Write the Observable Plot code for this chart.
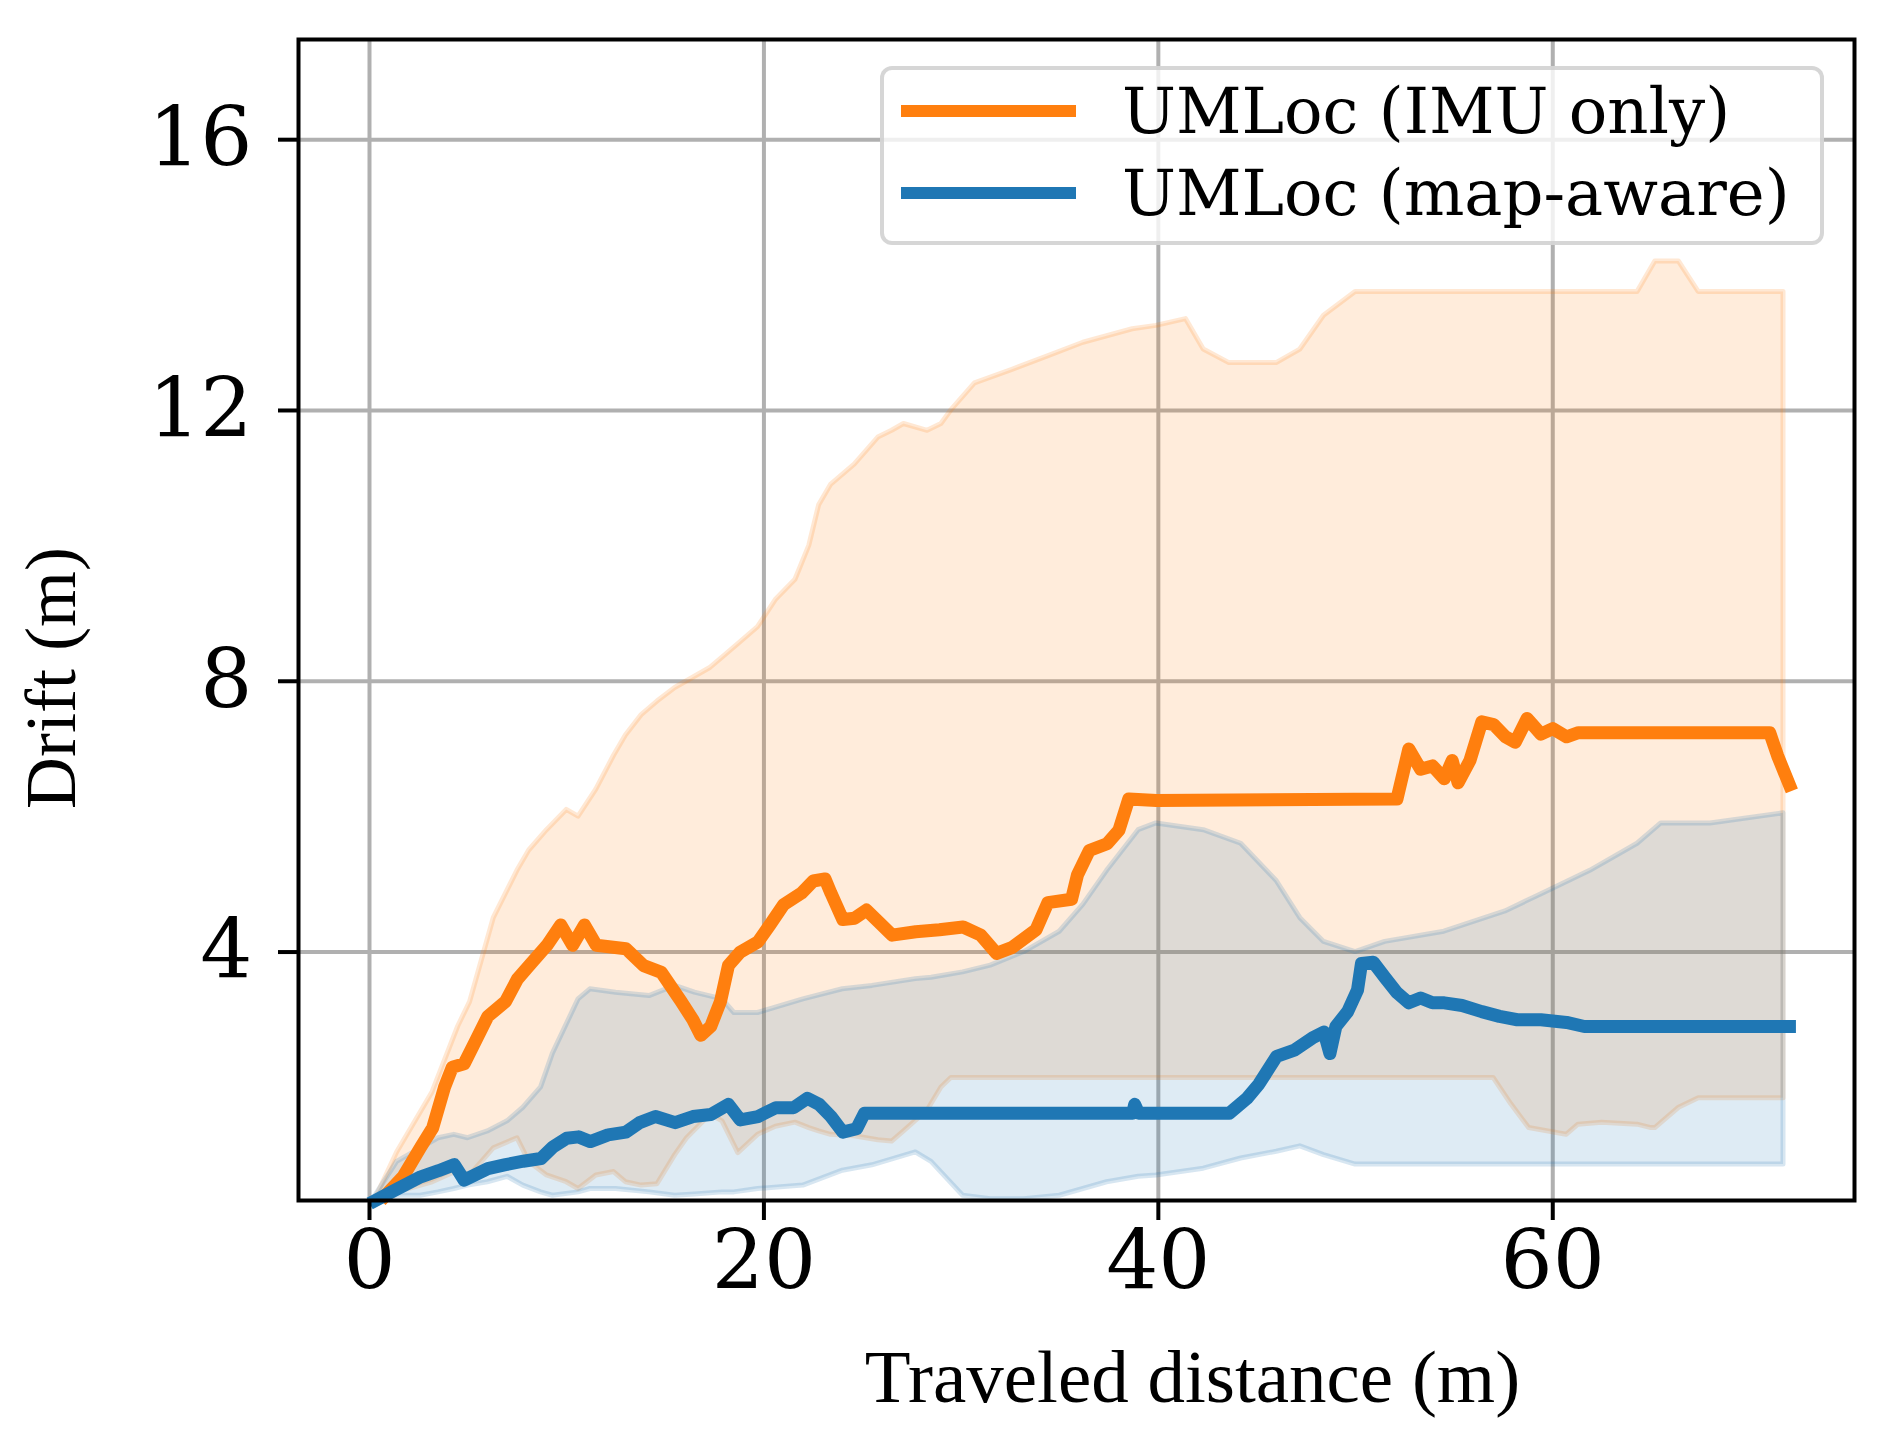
<!DOCTYPE html>
<html><head><meta charset="utf-8">
<script src="https://cdn.jsdelivr.net/npm/d3@7"></script>
<script src="https://cdn.jsdelivr.net/npm/@observablehq/plot@0.6"></script>
<style>
html,body{margin:0;padding:0;background:#fff;}
#wrap{position:relative;width:1882px;height:1434px;}
#legend{position:absolute;left:880px;top:66px;width:944px;height:179px;box-sizing:border-box;border:4px solid rgba(204,204,204,0.8);border-radius:12px;background:rgba(255,255,255,0.8);font-family:"DejaVu Serif";font-size:64px;color:#000;}
.row{position:absolute;left:0;height:80px;display:flex;align-items:center;white-space:nowrap;}
.sw{width:175px;height:12px;margin-left:17px;margin-right:46px;}
</style></head><body><div id="wrap"></div>
<script>
const seriesNames = ["UMLoc (IMU only)", "UMLoc (map-aware)"];
const seriesColors = ["#ff7f0e", "#1f77b4"];
const xTicks = [0, 20, 40, 60];
const yTicks = [4, 8, 12, 16];
const xLabel = "Traveled distance (m)";
const yLabel = "Drift (m)";

// band: [x, upper, lower]
const orangeBand = [
[0.3,0.35,0.33],[1.4,1.04,0.45],[3.2,1.93,0.6],[4.5,2.9,0.77],[5.1,3.26,0.7],[6.3,4.5,1.1],[7.5,5.2,1.25],[8.1,5.5,0.9],[9.0,5.8,0.7],[10.0,6.1,0.6],[10.6,6.0,0.5],[11.5,6.4,0.7],[12.4,6.9,0.75],[13.0,7.2,0.6],[13.8,7.5,0.55],[14.6,7.7,0.57],[15.5,7.9,1.0],[16.1,8.0,1.25],[17.3,8.2,1.6],[17.9,8.35,1.5],[18.7,8.55,1.03],[19.7,8.8,1.3],[20.6,9.2,1.42],[21.6,9.5,1.48],[22.3,10.0,1.4],[22.8,10.6,1.35],[23.4,10.9,1.3],[24.6,11.2,1.28],[25.8,11.6,1.22],[26.5,11.7,1.2],[27.1,11.8,1.35],[28.3,11.7,1.66],[29.0,11.8,2.0],[29.5,12.0,2.14],[30.7,12.4,2.14],[32.6,12.6,2.14],[34.4,12.8,2.14],[36.2,13.0,2.14],[38.7,13.2,2.14],[39.9,13.25,2.14],[41.4,13.35,2.14],[42.3,12.9,2.14],[43.6,12.7,2.14],[46.0,12.7,2.14],[47.2,12.9,2.14],[48.4,13.4,2.14],[50.0,13.75,2.14],[57.0,13.75,2.14],[57.9,13.75,1.75],[58.8,13.75,1.4],[60.7,13.75,1.3],[61.3,13.75,1.45],[62.5,13.75,1.48],[64.3,13.75,1.45],[65.0,14.1,1.4],[65.2,14.2,1.4],[66.4,14.2,1.7],[67.4,13.75,1.84],[71.7,13.75,1.84]
];
const blueBand = [
[0.3,0.4,0.33],[1.4,0.9,0.4],[2.6,1.1,0.4],[3.5,1.25,0.45],[4.3,1.3,0.5],[5.0,1.25,0.55],[6.0,1.35,0.6],[7.0,1.5,0.68],[7.8,1.7,0.55],[8.7,2.0,0.45],[9.3,2.5,0.4],[10.6,3.3,0.45],[11.2,3.45,0.5],[12.5,3.4,0.5],[14.2,3.35,0.45],[15.5,3.5,0.4],[16.5,3.4,0.42],[17.9,3.3,0.45],[18.5,3.1,0.45],[19.7,3.1,0.5],[22.0,3.3,0.55],[24.0,3.45,0.77],[25.5,3.5,0.85],[27.7,3.6,1.04],[28.5,3.62,0.9],[30.1,3.7,0.4],[31.5,3.8,0.35],[33.2,4.0,0.35],[35.0,4.3,0.4],[36.2,4.7,0.5],[37.4,5.2,0.6],[39.0,5.8,0.68],[39.9,5.9,0.7],[42.3,5.8,0.8],[44.2,5.6,0.95],[46.0,5.05,1.05],[47.2,4.5,1.13],[48.4,4.15,1.0],[50.0,4.0,0.86],[51.5,4.15,0.86],[54.5,4.3,0.86],[57.6,4.6,0.86],[59.4,4.85,0.86],[61.9,5.2,0.86],[64.3,5.6,0.86],[65.5,5.9,0.86],[68.0,5.9,0.86],[71.7,6.05,0.86]
];
// line: [x, y]
const orangeLine = [
[0.8,0.4],[1.7,0.68],[2.6,1.12],[3.2,1.4],[3.8,2.0],[4.2,2.3],[4.8,2.35],[5.4,2.7],[6.0,3.05],[6.9,3.27],[7.5,3.6],[8.1,3.8],[9.0,4.1],[9.7,4.4],[10.3,4.1],[10.9,4.4],[11.5,4.1],[13.0,4.05],[13.9,3.8],[14.8,3.7],[15.8,3.27],[16.4,3.0],[16.8,2.77],[17.3,2.9],[17.8,3.27],[18.2,3.8],[18.8,4.0],[19.7,4.15],[20.3,4.4],[21.0,4.7],[21.9,4.87],[22.5,5.05],[23.1,5.08],[23.4,4.87],[24.0,4.48],[24.6,4.5],[25.2,4.62],[25.8,4.45],[26.5,4.25],[27.7,4.3],[28.9,4.33],[30.1,4.37],[31.0,4.25],[31.8,3.98],[32.6,4.07],[33.8,4.33],[34.4,4.73],[35.6,4.78],[35.9,5.14],[36.5,5.5],[37.4,5.6],[38.0,5.8],[38.5,6.26],[39.9,6.24],[52.1,6.26],[52.7,7.0],[53.3,6.7],[53.9,6.75],[54.5,6.56],[54.9,6.83],[55.2,6.5],[55.8,6.83],[56.4,7.4],[57.0,7.36],[57.6,7.18],[58.1,7.1],[58.7,7.45],[59.4,7.22],[60.0,7.3],[60.7,7.18],[61.3,7.24],[71.0,7.24],[71.4,6.9],[72.0,6.47]
];
const blueLine = [
[0.3,0.33],[1.4,0.5],[2.6,0.68],[3.5,0.77],[4.3,0.86],[4.8,0.63],[5.3,0.7],[6.0,0.8],[6.9,0.86],[7.8,0.91],[8.7,0.95],[9.3,1.12],[10.0,1.25],[10.6,1.27],[11.2,1.2],[12.1,1.3],[13.0,1.34],[13.7,1.48],[14.5,1.57],[15.5,1.48],[16.4,1.57],[17.3,1.6],[18.2,1.75],[18.8,1.52],[19.7,1.57],[20.6,1.7],[21.5,1.7],[22.2,1.84],[22.8,1.75],[23.4,1.57],[24.0,1.34],[24.7,1.39],[25.1,1.62],[38.7,1.62],[38.8,1.75],[39.0,1.62],[43.6,1.62],[44.5,1.84],[45.1,2.05],[46.0,2.46],[46.9,2.55],[47.8,2.73],[48.4,2.82],[48.7,2.5],[49.0,2.9],[49.6,3.12],[50.1,3.44],[50.3,3.83],[50.9,3.85],[51.5,3.62],[52.1,3.4],[52.7,3.25],[53.3,3.32],[53.9,3.25],[54.5,3.25],[55.4,3.21],[56.4,3.12],[57.3,3.05],[58.2,3.0],[59.4,3.0],[60.7,2.96],[61.6,2.9],[72.0,2.9]
];

const bandStyle = (c) => ({x: d => d[0], y1: d => d[2], y2: d => d[1], fill: c, fillOpacity: 0.15, stroke: c, strokeOpacity: 0.18, strokeWidth: 5, strokeLinejoin: "round"});

const chart = Plot.plot({
  width: 1882,
  height: 1434,
  marginLeft: 298,
  marginRight: 28,
  marginTop: 39,
  marginBottom: 234,
  style: {background: "#fff", color: "#000"},
  x: {domain: [-3.6, 75.3]},
  y: {domain: [0.33, 17.48]},
  marks: [
    Plot.gridX(xTicks, {stroke: "#b0b0b0", strokeOpacity: 1, strokeWidth: 4}),
    Plot.gridY(yTicks, {stroke: "#b0b0b0", strokeOpacity: 1, strokeWidth: 4}),
    Plot.areaY(orangeBand, bandStyle(seriesColors[0])),
    Plot.areaY(blueBand, bandStyle(seriesColors[1])),
    Plot.line(orangeLine, {x: d => d[0], y: d => d[1], stroke: seriesColors[0], strokeWidth: 13, strokeLinejoin: "round", strokeLinecap: "square"}),
    Plot.line(blueLine, {x: d => d[0], y: d => d[1], stroke: seriesColors[1], strokeWidth: 13, strokeLinejoin: "round", strokeLinecap: "square"}),
    Plot.frame({stroke: "#000", strokeWidth: 4}),
    Plot.axisX(xTicks, {tickSize: 20, tickPadding: 10, strokeWidth: 4, fontSize: 82, fontFamily: "DejaVu Serif", tickFormat: d3.format("d"), label: null}),
    Plot.axisY(yTicks, {tickSize: 20, tickPadding: 26, strokeWidth: 4, fontSize: 82, fontFamily: "DejaVu Serif", tickFormat: d3.format("d"), label: null}),
    Plot.text([yLabel], {frameAnchor: "left", dx: -247, dy: 58, rotate: -90, textAnchor: "middle", lineAnchor: "middle", fontSize: 72, fontFamily: "Liberation Serif", fill: "#000"}),
    Plot.text([xLabel], {frameAnchor: "bottom", dx: 116, dy: 177, textAnchor: "middle", lineAnchor: "middle", fontSize: 75, fontFamily: "Liberation Serif", fill: "#000"})
  ]
});
const wrap = document.getElementById("wrap");
wrap.appendChild(chart);

const legend = document.createElement("div");
legend.id = "legend";
seriesNames.forEach((name, i) => {
  const row = document.createElement("div");
  row.className = "row";
  row.style.top = (i === 0 ? 1 : 83) + "px";
  const sw = document.createElement("div");
  sw.className = "sw";
  sw.style.background = seriesColors[i];
  const tx = document.createElement("span");
  tx.textContent = name;
  row.appendChild(sw);
  row.appendChild(tx);
  legend.appendChild(row);
});
wrap.appendChild(legend);
</script></body></html>
